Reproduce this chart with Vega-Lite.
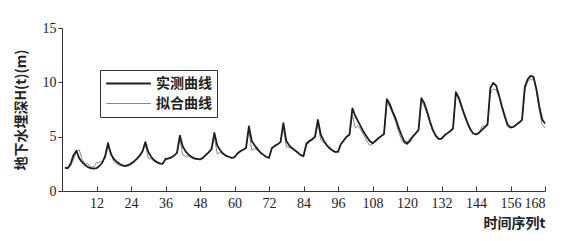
{
  "$schema": "https://vega.github.io/schema/vega-lite/v6.json",
  "width": 483,
  "height": 163,
  "autosize": {"type": "none"},
  "padding": {"left": 62, "top": 28, "right": 20, "bottom": 50},
  "background": "white",
  "data": {"values": [
{"t":1,"实测曲线":2.15,"拟合曲线":2.1},{"t":2,"实测曲线":2.1,"拟合曲线":2.05},{"t":3,"实测曲线":2.5,"拟合曲线":2.3},{"t":4,"实测曲线":3.3,"拟合曲线":2.9},{"t":5,"实测曲线":3.7,"拟合曲线":3.6},{"t":6,"实测曲线":3.0,"拟合曲线":3.8},{"t":7,"实测曲线":2.65,"拟合曲线":2.9},{"t":8,"实测曲线":2.4,"拟合曲线":2.5},{"t":9,"实测曲线":2.2,"拟合曲线":2.5},{"t":10,"实测曲线":2.1,"拟合曲线":2.2},
{"t":11,"实测曲线":2.05,"拟合曲线":2.2},{"t":12,"实测曲线":2.1,"拟合曲线":2.6},{"t":13,"实测曲线":2.3,"拟合曲线":2.65},{"t":14,"实测曲线":2.6,"拟合曲线":2.75},{"t":15,"实测曲线":3.2,"拟合曲线":3.0},{"t":16,"实测曲线":4.4,"拟合曲线":4.1},{"t":17,"实测曲线":3.4,"拟合曲线":3.6},{"t":18,"实测曲线":2.95,"拟合曲线":2.7},{"t":19,"实测曲线":2.7,"拟合曲线":2.5},{"t":20,"实测曲线":2.5,"拟合曲线":2.35},
{"t":21,"实测曲线":2.35,"拟合曲线":2.3},{"t":22,"实测曲线":2.3,"拟合曲线":2.35},{"t":23,"实测曲线":2.35,"拟合曲线":2.45},{"t":24,"实测曲线":2.5,"拟合曲线":2.6},{"t":25,"实测曲线":2.7,"拟合曲线":2.75},{"t":26,"实测曲线":2.95,"拟合曲线":2.9},{"t":27,"实测曲线":3.25,"拟合曲线":3.15},{"t":28,"实测曲线":3.65,"拟合曲线":3.6},{"t":29,"实测曲线":4.5,"拟合曲线":4.25},{"t":30,"实测曲线":3.6,"拟合曲线":3.0},
{"t":31,"实测曲线":3.15,"拟合曲线":2.95},{"t":32,"实测曲线":2.85,"拟合曲线":2.75},{"t":33,"实测曲线":2.65,"拟合曲线":2.6},{"t":34,"实测曲线":2.55,"拟合曲线":2.5},{"t":35,"实测曲线":2.5,"拟合曲线":2.55},{"t":36,"实测曲线":2.95,"拟合曲线":2.85},{"t":37,"实测曲线":3.0,"拟合曲线":2.95},{"t":38,"实测曲线":3.1,"拟合曲线":3.05},{"t":39,"实测曲线":3.25,"拟合曲线":3.25},{"t":40,"实测曲线":3.5,"拟合曲线":3.5},
{"t":41,"实测曲线":5.1,"拟合曲线":4.8},{"t":42,"实测曲线":4.1,"拟合曲线":3.3},{"t":43,"实测曲线":3.65,"拟合曲线":3.2},{"t":44,"实测曲线":3.35,"拟合曲线":3.2},{"t":45,"实测曲线":3.15,"拟合曲线":3.05},{"t":46,"实测曲线":3.0,"拟合曲线":2.95},{"t":47,"实测曲线":2.95,"拟合曲线":2.9},{"t":48,"实测曲线":2.9,"拟合曲线":2.9},{"t":49,"实测曲线":3.05,"拟合曲线":3.05},{"t":50,"实测曲线":3.3,"拟合曲线":3.3},
{"t":51,"实测曲线":3.55,"拟合曲线":3.5},{"t":52,"实测曲线":3.85,"拟合曲线":3.8},{"t":53,"实测曲线":5.35,"拟合曲线":5.0},{"t":54,"实测曲线":4.2,"拟合曲线":3.4},{"t":55,"实测曲线":3.75,"拟合曲线":3.55},{"t":56,"实测曲线":3.45,"拟合曲线":3.4},{"t":57,"实测曲线":3.25,"拟合曲线":3.25},{"t":58,"实测曲线":3.15,"拟合曲线":3.15},{"t":59,"实测曲线":3.05,"拟合曲线":3.05},{"t":60,"实测曲线":3.1,"拟合曲线":3.15},
{"t":61,"实测曲线":3.45,"拟合曲线":3.4},{"t":62,"实测曲线":3.65,"拟合曲线":3.6},{"t":63,"实测曲线":3.8,"拟合曲线":3.8},{"t":64,"实测曲线":3.95,"拟合曲线":3.95},{"t":65,"实测曲线":5.95,"拟合曲线":5.6},{"t":66,"实测曲线":4.6,"拟合曲线":3.75},{"t":67,"实测曲线":4.2,"拟合曲线":3.9},{"t":68,"实测曲线":3.85,"拟合曲线":3.75},{"t":69,"实测曲线":3.55,"拟合曲线":3.5},{"t":70,"实测曲线":3.35,"拟合曲线":3.3},
{"t":71,"实测曲线":3.15,"拟合曲线":3.1},{"t":72,"实测曲线":3.05,"拟合曲线":3.1},{"t":73,"实测曲线":3.95,"拟合曲线":3.85},{"t":74,"实测曲线":4.15,"拟合曲线":4.1},{"t":75,"实测曲线":4.3,"拟合曲线":4.3},{"t":76,"实测曲线":4.5,"拟合曲线":4.5},{"t":77,"实测曲线":6.25,"拟合曲线":5.9},{"t":78,"实测曲线":4.6,"拟合曲线":4.1},{"t":79,"实测曲线":4.2,"拟合曲线":4.0},{"t":80,"实测曲线":3.95,"拟合曲线":3.9},
{"t":81,"实测曲线":3.75,"拟合曲线":3.7},{"t":82,"实测曲线":3.55,"拟合曲线":3.5},{"t":83,"实测曲线":3.3,"拟合曲线":3.3},{"t":84,"实测曲线":3.2,"拟合曲线":3.35},{"t":85,"实测曲线":4.35,"拟合曲线":4.2},{"t":86,"实测曲线":4.6,"拟合曲线":4.5},{"t":87,"实测曲线":4.75,"拟合曲线":4.7},{"t":88,"实测曲线":5.0,"拟合曲线":4.9},{"t":89,"实测曲线":6.55,"拟合曲线":6.2},{"t":90,"实测曲线":5.2,"拟合曲线":4.7},
{"t":91,"实测曲线":4.65,"拟合曲线":4.5},{"t":92,"实测曲线":4.25,"拟合曲线":4.2},{"t":93,"实测曲线":3.95,"拟合曲线":3.9},{"t":94,"实测曲线":3.75,"拟合曲线":3.7},{"t":95,"实测曲线":3.6,"拟合曲线":3.55},{"t":96,"实测曲线":3.6,"拟合曲线":3.7},{"t":97,"实测曲线":4.3,"拟合曲线":4.4},{"t":98,"实测曲线":4.65,"拟合曲线":4.7},{"t":99,"实测曲线":5.0,"拟合曲线":5.0},{"t":100,"实测曲线":5.2,"拟合曲线":5.1},
{"t":101,"实测曲线":7.6,"拟合曲线":7.0},{"t":102,"实测曲线":6.9,"拟合曲线":5.8},{"t":103,"实测曲线":6.4,"拟合曲线":6.0},{"t":104,"实测曲线":5.9,"拟合曲线":5.6},{"t":105,"实测曲线":5.4,"拟合曲线":5.1},{"t":106,"实测曲线":5.0,"拟合曲线":4.6},{"t":107,"实测曲线":4.6,"拟合曲线":4.2},{"t":108,"实测曲线":4.4,"拟合曲线":4.3},{"t":109,"实测曲线":4.6,"拟合曲线":4.55},{"t":110,"实测曲线":4.85,"拟合曲线":4.8},
{"t":111,"实测曲线":5.05,"拟合曲线":5.0},{"t":112,"实测曲线":5.25,"拟合曲线":5.2},{"t":113,"实测曲线":8.45,"拟合曲线":8.2},{"t":114,"实测曲线":8.0,"拟合曲线":7.7},{"t":115,"实测曲线":7.3,"拟合曲线":7.1},{"t":116,"实测曲线":6.7,"拟合曲线":6.4},{"t":117,"实测曲线":5.9,"拟合曲线":5.5},{"t":118,"实测曲线":5.2,"拟合曲线":4.8},{"t":119,"实测曲线":4.6,"拟合曲线":4.35},{"t":120,"实测曲线":4.35,"拟合曲线":4.5},
{"t":121,"实测曲线":4.6,"拟合曲线":4.85},{"t":122,"实测曲线":5.0,"拟合曲线":5.0},{"t":123,"实测曲线":5.3,"拟合曲线":5.3},{"t":124,"实测曲线":5.6,"拟合曲线":5.6},{"t":125,"实测曲线":8.55,"拟合曲线":8.3},{"t":126,"实测曲线":8.1,"拟合曲线":7.8},{"t":127,"实测曲线":7.3,"拟合曲线":7.1},{"t":128,"实测曲线":6.4,"拟合曲线":6.2},{"t":129,"实测曲线":5.6,"拟合曲线":5.5},{"t":130,"实测曲线":5.1,"拟合曲线":5.0},
{"t":131,"实测曲线":4.8,"拟合曲线":4.75},{"t":132,"实测曲线":4.8,"拟合曲线":4.9},{"t":133,"实测曲线":5.1,"拟合曲线":5.15},{"t":134,"实测曲线":5.3,"拟合曲线":5.35},{"t":135,"实测曲线":5.5,"拟合曲线":5.5},{"t":136,"实测曲线":5.75,"拟合曲线":5.7},{"t":137,"实测曲线":9.1,"拟合曲线":8.9},{"t":138,"实测曲线":8.6,"拟合曲线":8.4},{"t":139,"实测曲线":7.8,"拟合曲线":7.6},{"t":140,"实测曲线":7.0,"拟合曲线":6.9},
{"t":141,"实测曲线":6.3,"拟合曲线":6.2},{"t":142,"实测曲线":5.7,"拟合曲线":5.6},{"t":143,"实测曲线":5.3,"拟合曲线":5.3},{"t":144,"实测曲线":5.2,"拟合曲线":5.2},{"t":145,"实测曲线":5.35,"拟合曲线":5.3},{"t":146,"实测曲线":5.6,"拟合曲线":5.9},{"t":147,"实测曲线":5.85,"拟合曲线":6.0},{"t":148,"实测曲线":6.1,"拟合曲线":6.2},{"t":149,"实测曲线":9.5,"拟合曲线":9.0},{"t":150,"实测曲线":9.95,"拟合曲线":9.4},
{"t":151,"实测曲线":9.7,"拟合曲线":9.3},{"t":152,"实测曲线":8.8,"拟合曲线":8.7},{"t":153,"实测曲线":7.8,"拟合曲线":7.6},{"t":154,"实测曲线":6.9,"拟合曲线":6.7},{"t":155,"实测曲线":6.1,"拟合曲线":5.9},{"t":156,"实测曲线":5.85,"拟合曲线":5.8},{"t":157,"实测曲线":5.9,"拟合曲线":5.85},{"t":158,"实测曲线":6.1,"拟合曲线":6.05},{"t":159,"实测曲线":6.3,"拟合曲线":6.25},{"t":160,"实测曲线":6.55,"拟合曲线":6.5},
{"t":161,"实测曲线":9.6,"拟合曲线":9.3},{"t":162,"实测曲线":10.3,"拟合曲线":10.1},{"t":163,"实测曲线":10.6,"拟合曲线":10.3},{"t":164,"实测曲线":10.5,"拟合曲线":10.3},{"t":165,"实测曲线":9.4,"拟合曲线":9.2},{"t":166,"实测曲线":7.8,"拟合曲线":7.5},{"t":167,"实测曲线":6.6,"拟合曲线":6.1},{"t":168,"实测曲线":6.2,"拟合曲线":5.8}
  ]},
  "transform": [
    {"fold": ["拟合曲线", "实测曲线"], "as": ["series", "h"]}
  ],
  "mark": {"type": "line", "strokeJoin": "round"},
  "encoding": {
    "x": {
      "field": "t", "type": "quantitative",
      "scale": {"domain": [0, 168], "nice": false},
      "axis": {
        "values": [12,24,36,48,60,72,84,96,108,120,132,144,156,168],
        "grid": false, "tickSize": -5, "labelPadding": 10,
        "labelFont": "Liberation Serif", "labelFontSize": 14,
        "title": "时间序列t", "titleAnchor": "end", "titleAlign": "right",
        "titleFont": "Noto Sans CJK SC", "titleFontSize": 14, "titleFontWeight": "bold",
        "titlePadding": 6
      }
    },
    "y": {
      "field": "h", "type": "quantitative",
      "scale": {"domain": [0, 15], "nice": false},
      "axis": {
        "values": [0, 5, 10, 15], "grid": false, "tickSize": 4,
        "labelFont": "Liberation Serif", "labelFontSize": 14,
        "title": "地下水埋深H(t)(m)", "titleFont": "Noto Sans CJK SC", "titleFontSize": 14,
        "titleFontWeight": "bold", "titlePadding": 14
      }
    },
    "color": {
      "field": "series", "type": "nominal", "title": null,
      "scale": {"domain": ["实测曲线", "拟合曲线"], "range": ["#1e1e1e", "#6a6a6a"]},
      "legend": {
        "title": null, "orient": "none", "legendX": 38, "legendY": 42,
        "symbolType": "stroke", "symbolSize": 2000, "clipHeight": 17,
        "labelFont": "Noto Sans CJK SC", "labelFontSize": 14, "labelFontWeight": "bold",
        "labelColor": "#222", "labelOffset": 4,
        "strokeColor": "#333", "padding": 5, "rowPadding": 3
      }
    },
    "strokeWidth": {
      "field": "series", "type": "nominal", "title": null,
      "scale": {"domain": ["实测曲线", "拟合曲线"], "range": [1.8, 0.8]}
    }
  },
  "config": {
    "view": {"stroke": null},
    "axis": {
      "domainColor": "#333", "tickColor": "#333", "labelColor": "#222", "titleColor": "#222"
    }
  }
}
